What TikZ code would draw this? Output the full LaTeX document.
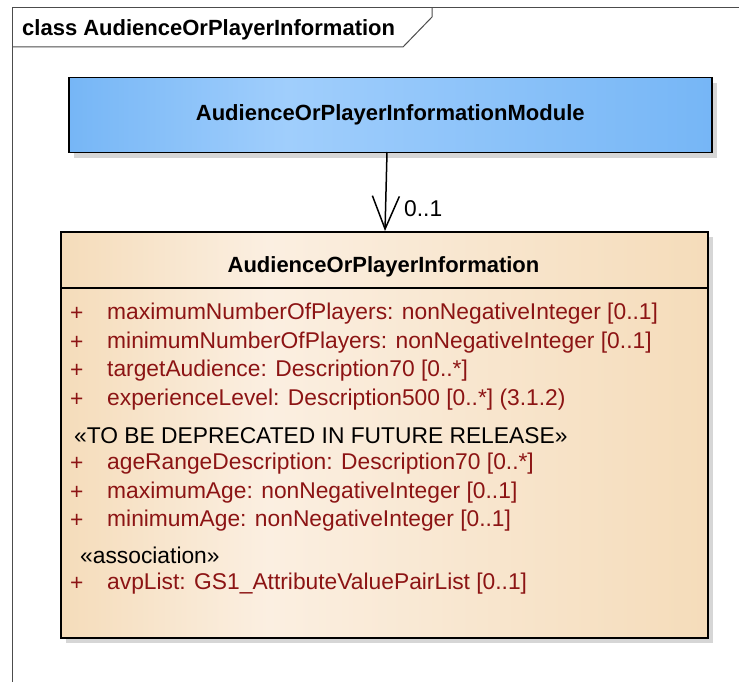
\documentclass[tikz,border=0pt]{standalone}
\usepackage{fontspec}
\setmainfont{Liberation Sans}
\usetikzlibrary{arrows.meta}
\definecolor{modblueA}{RGB}{118,182,246}
\definecolor{modblueB}{RGB}{160,206,252}
\definecolor{clsA}{RGB}{245,220,186}
\definecolor{clsB}{RGB}{251,239,225}
\definecolor{attred}{RGB}{140,20,20}
\definecolor{shadowgray}{RGB}{214,214,214}
\pgfdeclarehorizontalshading{modshade}{100bp}{
  color(0bp)=(modblueA); color(25bp)=(modblueA); color(42bp)=(modblueB); color(75bp)=(modblueA); color(100bp)=(modblueA)}
\pgfdeclarehorizontalshading{clsshade}{100bp}{
  color(0bp)=(clsA); color(25bp)=(clsA); color(41bp)=(clsB); color(75bp)=(clsA); color(100bp)=(clsA)}
\tikzset{
  fontsize/.style={font=\fontsize{22.8}{26}\selectfont},
  boldtxt/.style={font=\fontsize{22}{26}\selectfont\bfseries, inner sep=0pt},
  attr/.style={fontsize, inner sep=0pt, anchor=west, text=attred},
  stereo/.style={fontsize, inner sep=0pt, anchor=west, text=black},
  plus/.style={fontsize, inner sep=0pt, anchor=west, text=attred},
  shadowbox/.style={fill=shadowgray, draw=none},
  framel/.style={draw=black!70, line width=1pt},
}
\begin{document}
\begin{tikzpicture}[x=1pt,y=-1pt]
\useasboundingbox (0,0) rectangle (739,682);
% frame
\draw[framel] (739,8) -- (12,8) -- (12,682);
\draw[framel] (12,47) -- (403,47) -- (432,17) -- (432,8);
\node[boldtxt, anchor=west] (ftitle) at (22,30) {class AudienceOrPlayerInformation};
% module box
\fill[shadowbox] (74,83) rectangle (717,158);
\node[draw=black, line width=1.5pt, shading=modshade, shading angle=0,
      minimum width=643pt, minimum height=75pt, inner sep=0pt, anchor=north west] (mod) at (68,77) {};
\node[boldtxt] (modt) at (mod.center) {AudienceOrPlayerInformationModule};
% class box
\fill[shadowbox] (66,237) rectangle (713,643);
\node[draw=black, line width=1.5pt, shading=clsshade, shading angle=0,
      minimum width=647pt, minimum height=406pt, inner sep=0pt, anchor=north west] (cls) at (60,231) {};
\draw[line width=1.5pt] (cls.west |- 0,288) coordinate (sepl) -- (cls.east |- 0,288) coordinate (sepr);
\node[boldtxt] (clst) at (383.5,267) {AudienceOrPlayerInformation};
% attributes
\foreach \yy/\name/\txt in {
  314/a1/{maximumNumberOfPlayers: nonNegativeInteger [0..1]},
  343/a2/{minimumNumberOfPlayers: nonNegativeInteger [0..1]},
  371/a3/{targetAudience: Description70 [0..*]},
  400/a4/{experienceLevel: Description500 [0..*] (3.1.2)},
  464/a5/{ageRangeDescription: Description70 [0..*]},
  493/a6/{maximumAge: nonNegativeInteger [0..1]},
  521/a7/{minimumAge: nonNegativeInteger [0..1]},
  584/a8/{avpList: GS1\_AttributeValuePairList [0..1]}}{
  \node[plus] (p\name) at (70,\yy) {+};
  \node[attr] (\name) at (107,\yy) {\txt};
}
\node[stereo] (s1) at (74,436) {«TO BE DEPRECATED IN FUTURE RELEASE»};
\node[stereo] (s2) at (80,555) {«association»};
% connector
\coordinate (src) at (387,152);
\coordinate (dst) at (385,231);
\draw[line width=1.5pt, -{Straight Barb[length=33pt,width=27pt,line width=1.5pt]}] (src) -- (dst);
\node[fontsize, inner sep=0pt, anchor=west] (mult) at (404,209) {0..1};
\end{tikzpicture}
\end{document}
